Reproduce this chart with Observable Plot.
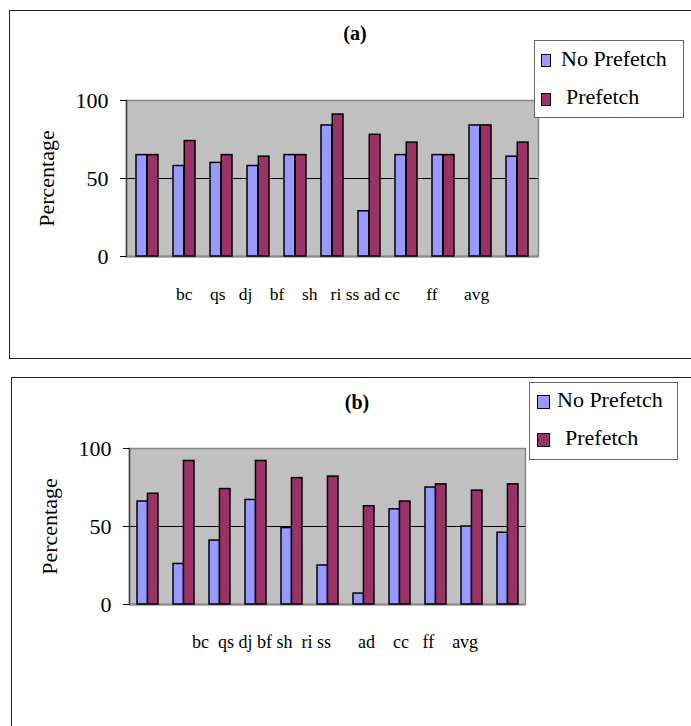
<!DOCTYPE html>
<html><head><meta charset="utf-8">
<script src="https://cdn.jsdelivr.net/npm/d3@7"></script>
<script src="https://cdn.jsdelivr.net/npm/@observablehq/plot@0.6"></script>
<style>
body{margin:0;background:#fff;}
#page{position:relative;width:691px;height:726px;overflow:hidden;font-family:"Liberation Serif","Times New Roman",serif;color:#000;background:#fff;}
.panel{position:absolute;border:1.5px solid #222;box-sizing:border-box;}
.abs{position:absolute;white-space:pre;}
.legend{position:absolute;border:1px solid #666;background:#fff;box-sizing:border-box;}
.sw{position:absolute;border:1.5px solid #000;box-sizing:border-box;}
.chart{position:absolute;}
</style></head><body><div id="page"></div>
<script>
// ---- data ----
const categories = ["bc","qs","dj","bf","sh","ri","ss","ad","cc","ff","avg"];
const seriesNames = ["No Prefetch","Prefetch"];
const noPrefetchA = [65, 58, 60, 58, 65, 84, 29, 65, 65, 84, 64];
const prefetchA   = [65, 74, 65, 64, 65, 91, 78, 73, 65, 84, 73];
const noPrefetchB = [66, 26, 41, 67, 49, 25, 7, 61, 75, 50, 46];
const prefetchB   = [71, 92, 74, 92, 81, 82, 63, 66, 77, 73, 77];
const yTicks = [0, 50, 100];
const titles = ["(a)", "(b)"];

// ---- layout / style ----
const colors = ["#9999ff", "#993366"];
const page = document.getElementById("page");

function el(cls, css, text) {
  const d = document.createElement("div");
  d.className = cls;
  Object.assign(d.style, css);
  if (text != null) d.textContent = text;
  page.appendChild(d);
  return d;
}

function panel(cfg) {
  el("panel", {left: cfg.box[0]+"px", top: cfg.box[1]+"px", width: cfg.box[2]+"px", height: cfg.box[3]+"px"});
  el("abs", {left: (cfg.titleX-50)+"px", width:"100px", textAlign:"center", top: cfg.titleTop+"px",
    fontSize:"20px", lineHeight:"20px", fontWeight:"bold"}, cfg.title);

  const data = categories.map((c, i) => ({cat: c, no: cfg.no[i], pre: cfg.pre[i]}));
  const mL = 100, mR = 10, mT = 15, mB = 15;
  const svg = Plot.plot({
    width: mL + cfg.plotW + mR,
    height: mT + cfg.plotH + mB,
    marginLeft: mL, marginRight: mR, marginTop: mT, marginBottom: mB,
    style: {fontFamily: '"Liberation Serif","Times New Roman",serif', fontSize: "22px", background: "transparent", overflow: "visible", color: "#000"},
    x: {domain: categories, paddingInner: cfg.pi, paddingOuter: cfg.po, axis: null},
    y: {domain: [0, 100]},
    marks: [
      Plot.frame({fill: "#c0c0c0", stroke: "#888", strokeWidth: 1.5}),
      Plot.ruleY([50], {stroke: "#000", strokeWidth: 1}),
      Plot.ruleY([0], {stroke: "#888", strokeWidth: 2}),
      Plot.frame({anchor: "left", stroke: "#444", strokeWidth: 1.5}),
      Plot.barY(data, {x: "cat", y: "no", fill: colors[0], stroke: "#000", strokeWidth: 1.5, insetRight: cfg.inset}),
      Plot.barY(data, {x: "cat", y: "pre", fill: colors[1], stroke: "#000", strokeWidth: 1.5, insetLeft: cfg.inset}),
      Plot.axisY({ticks: yTicks, tickSize: 6, tickPadding: 12, fontSize: 22,
        label: "Percentage", labelAnchor: "center", labelArrow: "none", labelOffset: cfg.labelOffset})
    ]
  });
  const wrap = el("chart", {left: (cfg.plotX - mL)+"px", top: (cfg.plotY - mT)+"px"});
  wrap.appendChild(svg);

  // category label row
  let row = "";
  categories.forEach((c, i) => { row += c; if (i < cfg.gaps.length) row += " ".repeat(cfg.gaps[i]); });
  el("abs", {left: cfg.rowX+"px", top: cfg.rowTop+"px", fontSize: cfg.rowFont+"px", lineHeight: cfg.rowFont+"px"}, row);

  // legend
  const L = cfg.legend;
  el("legend", {left: L.x+"px", top: L.y+"px", width: L.w+"px", height: L.h+"px"});
  seriesNames.forEach((s, i) => {
    el("sw", {left: L.swX+"px", top: L.swY[i]+"px", width: L.swW+"px", height: L.swH+"px", background: colors[i]});
    el("abs", {left: L.tx[i]+"px", top: L.ty[i]+"px", fontSize: "22px", lineHeight: "22px"}, s);
  });
}

panel({
  box: [9, 10, 700, 349], title: titles[0], titleX: 355, titleTop: 23,
  no: noPrefetchA, pre: prefetchA,
  plotX: 126, plotY: 100, plotW: 412, plotH: 156, pi: 0.4, po: 0.2, inset: 11.25, labelOffset: 88,
  gaps: [4,3,4,4,3,1,1,1,6,6], rowX: 176, rowTop: 286, rowFont: 17.5,
  legend: {x: 534, y: 40, w: 150, h: 78, swX: 541, swY: [54, 93], swW: 10, swH: 13, tx: [561, 566], ty: [48, 86]}
});
panel({
  box: [11, 377, 700, 400], title: titles[1], titleX: 357, titleTop: 392,
  no: noPrefetchB, pre: prefetchB,
  plotX: 129, plotY: 448, plotW: 396, plotH: 156, pi: 0.42, po: 0.21, inset: 10.45, labelOffset: 88,
  gaps: [2,1,1,1,2,1,6,4,3,4], rowX: 192, rowTop: 633, rowFont: 18,
  legend: {x: 529, y: 382, w: 149, h: 78, swX: 537, swY: [395, 433], swW: 13, swH: 14, tx: [557, 565], ty: [389, 427]}
});
</script>
</body></html>
